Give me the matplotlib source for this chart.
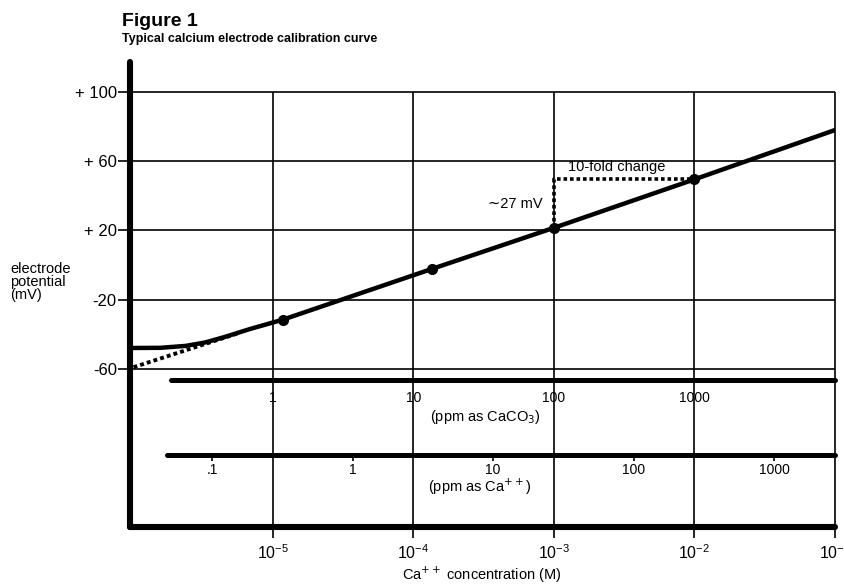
import numpy as np
import matplotlib.pyplot as plt
from matplotlib.ticker import NullLocator

plt.rcParams['font.family'] = ['Liberation Sans', 'DejaVu Sans']

# electrode response: log10 of Ca++ (M) vs potential (mV)
curve_logc = [-6.02, -5.80, -5.62, -5.48, -5.34, -5.16, -5.00, -4.93, -3.87, -3.00, -2.00, -1.00]
curve_mv = [-47.9, -47.8, -46.7, -44.7, -41.5, -36.9, -33.2, -31.6, -2.3, 21.5, 49.5, 78.0]

# calibration standards (the dots)
std_logc = [-4.93, -3.87, -3.00, -2.00]
std_mv = [-31.6, -2.3, 21.5, 49.5]

# dotted extension of the straight part at low concentration
extrap_logc = [-5.99, -5.25]
extrap_mv = [-59.0, -39.5]

y_ticks = [100, 60, 20, -20, -60]
y_labels = ['+ 100', '+ 60', '+ 20', '-20', '-60']
m_ticks = [1e-5, 1e-4, 1e-3, 1e-2, 1e-1]
m_labels = [r'$\mathregular{10^{-5}}$', r'$\mathregular{10^{-4}}$', r'$\mathregular{10^{-3}}$',
            r'$\mathregular{10^{-2}}$', r'$\mathregular{10^{-1}}$']

caco3_ppm = [1, 10, 100, 1000]
caco3_labels = ['1', '10', '100', '1000']
ca_ppm = [0.1, 1, 10, 100, 1000]
ca_labels = ['.1', '1', '10', '100', '1000']
caco3_to_m = 1e-5     # 1 ppm CaCO3 in mol/L
ca_to_m = 3.7e-5      # as drawn on the scale
ruler_start_caco3 = 1.9e-6
ruler_start_ca = 1.76e-6

W, H = 845, 584
fig = plt.figure(figsize=(W / 100, H / 100), dpi=100)

ax_left = 130 / W
ax_width = (835 - 130) / W
ax = fig.add_axes([ax_left, 1 - 527 / H, ax_width, (527 - 62) / H])
ax.set_xscale('log')
ax.set_xlim(10 ** -6.015, 1e-1)
ax.set_ylim(-151.3, 117.3)

conc = 10 ** np.array(curve_logc)
std_c = 10 ** np.array(std_logc)

# grid: horizontal lines at the labelled potentials, vertical lines at decades
ax.set_yticks(y_ticks, y_labels)
ax.yaxis.grid(True, color='black', lw=1.2)
ax.vlines(m_ticks, ax.get_ylim()[0], max(y_ticks), color='black', lw=1.2, clip_on=False)

ax.plot(conc, curve_mv, color='black', lw=3.2, solid_capstyle='round', solid_joinstyle='round')
ax.plot(10 ** np.array(extrap_logc), extrap_mv, color='black', lw=2.8, ls=(0, (1, 0.8)))
ax.plot(std_c, std_mv, 'o', color='black', ms=7)

# 10-fold change / slope construction
ax.plot([std_c[2], std_c[2], std_c[3]], [std_mv[2], std_mv[3], std_mv[3]],
        color='black', lw=2.6, ls=(0, (1, 0.8)))
ax.annotate('10-fold change', xy=(std_c[2], std_mv[3]), xytext=(14, 5),
            textcoords='offset pixels', ha='left', va='bottom', fontsize=10.5)
ax.annotate('\u223c27 mV', xy=(std_c[2], (std_mv[2] + std_mv[3]) / 2), xytext=(-11, 0),
            textcoords='offset pixels', ha='right', va='center', fontsize=10.5)

for s in ['top', 'right']:
    ax.spines[s].set_visible(False)
for s in ['left', 'bottom']:
    ax.spines[s].set_linewidth(4.4)
    ax.spines[s].set_capstyle('round')

ax.set_xticks(m_ticks, m_labels)
ax.xaxis.set_minor_locator(NullLocator())
ax.tick_params(axis='x', direction='out', length=8, width=1.2, labelsize=11.5, pad=4)
ax.tick_params(axis='y', direction='out', length=8.5, width=1.2, labelsize=12, pad=1)


def ruler(y_px, ticks_m, labels, start_m, tick_len, pad):
    r = fig.add_axes([ax_left, 1 - y_px / H, ax_width, 0.0001])
    r.set_xscale('log')
    r.set_xlim(ax.get_xlim())
    r.patch.set_visible(False)
    for s in ['top', 'left', 'right']:
        r.spines[s].set_visible(False)
    r.spines['bottom'].set_linewidth(3.6)
    r.spines['bottom'].set_capstyle('round')
    r.spines['bottom'].set_bounds(start_m, ax.get_xlim()[1])
    r.set_yticks([])
    r.set_xticks(ticks_m, labels)
    r.xaxis.set_minor_locator(NullLocator())
    r.tick_params(axis='x', direction='out', length=tick_len, width=1.2, labelsize=10, pad=pad)
    return r


ruler(380, [p * caco3_to_m for p in caco3_ppm], caco3_labels, ruler_start_caco3, 0, 8)
ruler(455, [p * ca_to_m for p in ca_ppm], ca_labels, ruler_start_ca, 4.5, 1.5)

fig.text(485 / W, 1 - 417 / H, r'(ppm as CaCO$_3$)', ha='center', va='center', fontsize=10.5)
fig.text(480 / W, 1 - 487 / H, r'(ppm as Ca$^{++}$)', ha='center', va='center', fontsize=10.5)
fig.text(482 / W, 1 - 575 / H, r'Ca$^{++}$ concentration (M)', ha='center', va='center', fontsize=10.5)

fig.text(10 / W, 1 - 262 / H, 'electrode\npotential\n(mV)', ha='left', va='top',
         fontsize=10.5, linespacing=0.9)

fig.text(122 / W, 1 - 26 / H, 'Figure 1', ha='left', va='baseline', fontsize=14, weight='bold')
fig.text(122 / W, 1 - 42 / H, 'Typical calcium electrode calibration curve', ha='left',
         va='baseline', fontsize=9, weight='bold')

fig.savefig('out.png', dpi=100)
